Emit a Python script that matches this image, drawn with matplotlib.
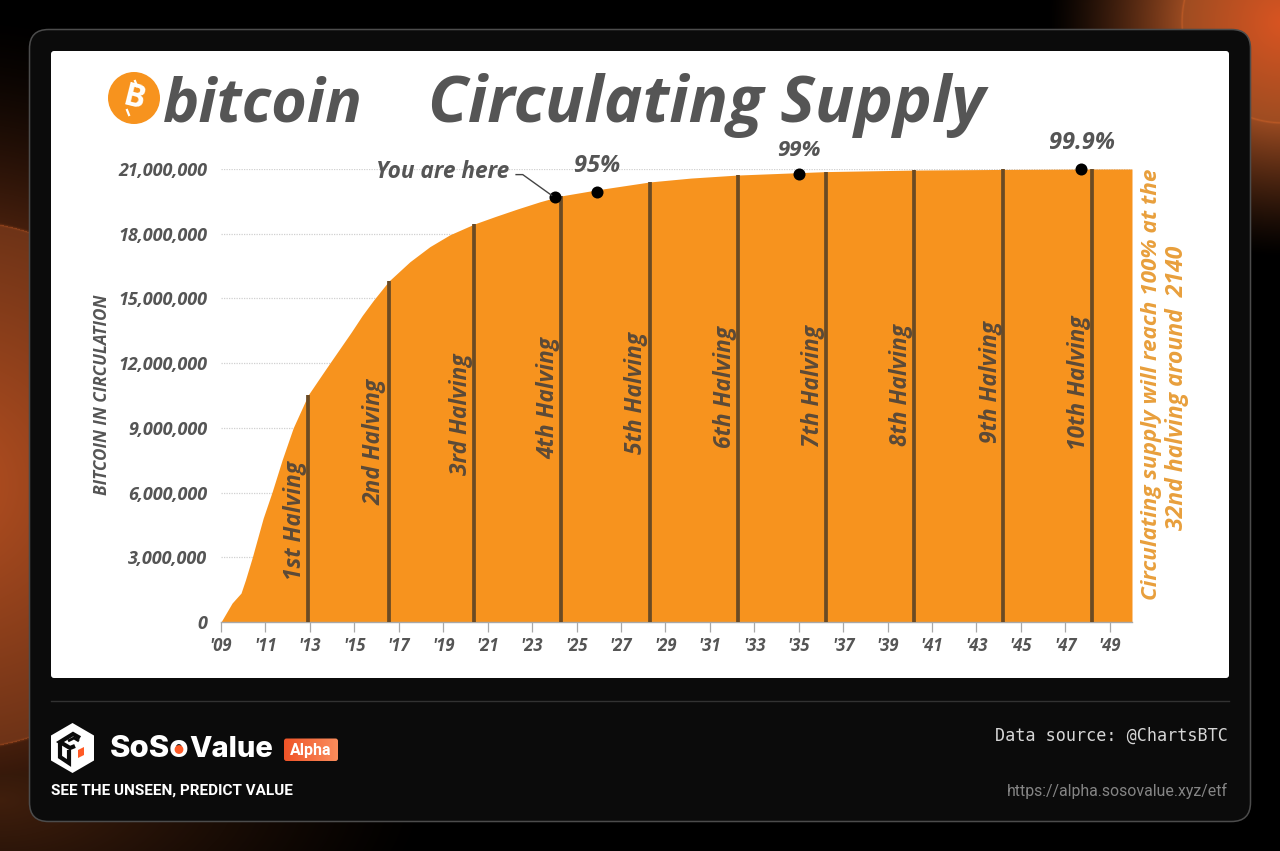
import numpy as np
import matplotlib
matplotlib.use("Agg")
import matplotlib.pyplot as plt
from matplotlib.patches import FancyBboxPatch, Circle, Polygon

# ---------- data ----------
years = [2009.0, 2009.5, 2009.9, 2010.1, 2010.4, 2010.9, 2011.3, 2011.75, 2012.25, 2012.92,
         2013.4, 2013.85, 2014.3, 2014.85, 2015.35, 2015.85, 2016.55, 2017.5, 2018.4, 2019.3, 2020.4,
         2021.35, 2022.35, 2023.35, 2024.3, 2025.9, 2027.0, 2028.3, 2030.15, 2032.25, 2036.25,
         2040.2, 2044.2, 2048.2, 2050.0]
supply = [0.0, 0.88, 1.34, 1.95, 2.97, 4.82, 6.03, 7.51, 9.0, 10.52,
          11.25, 11.93, 12.6, 13.42, 14.2, 14.9, 15.8, 16.7, 17.4, 17.95, 18.45,
          18.8, 19.15, 19.48, 19.75, 20.03, 20.2, 20.4, 20.58, 20.72, 20.88,
          20.95, 20.98, 21.0, 21.0]
halving_years = [2012.92, 2016.55, 2020.4, 2024.3, 2028.3, 2032.25, 2036.25, 2040.2, 2044.2, 2048.2]
halving_tops = [10.52, 15.8, 18.45, 19.75, 20.4, 20.72, 20.88, 20.95, 20.98, 21.0]
halving_labels = ["1st Halving", "2nd Halving", "3rd Halving", "4th Halving", "5th Halving",
                  "6th Halving", "7th Halving", "8th Halving", "9th Halving", "10th Halving"]
milestone_years = [2024.03, 2025.9, 2035.0, 2047.7]
milestone_supply = [19.7, 19.95, 20.79, 21.0]
milestone_labels = ["", "95%", "99%", "99.9%"]
y_ticks = [0, 3, 6, 9, 12, 15, 18, 21]
y_tick_labels = ["0", "3,000,000", "6,000,000", "9,000,000", "12,000,000", "15,000,000",
                 "18,000,000", "21,000,000"]
x_ticks = list(range(2009, 2051, 2))
x_tick_labels = ["'%02d" % (y % 100) for y in x_ticks]

W, H = 1280, 851
GRAY = "#555555"
ORANGE = "#F7931E"
TF = ["Open Sans", "DejaVu Sans"]

fig = plt.figure(figsize=(W / 100, H / 100), dpi=100, facecolor="black")

# ---------- background glows ----------
bg = fig.add_axes([0, 0, 1, 1], zorder=0)
bg.set_xlim(0, W); bg.set_ylim(H, 0); bg.axis("off")
yy, xx = np.mgrid[0:H, 0:W] + 0.5
tr = np.hypot(xx - 1283, yy - 22)
img = (np.clip(1 - (tr - 101) / 135, 0, 1) ** 1.3)[..., None] * np.array([0.60, 0.29, 0.13])
ti = tr < 101
mix = (tr[ti] / 101)[..., None]
img[ti] = (1 - mix) * np.array([0.85, 0.33, 0.13]) + mix * np.array([0.62, 0.30, 0.13])
lr = np.hypot(xx + 50, yy - 485)
il = np.clip(1 - (lr - 265) / 210, 0, 1)[..., None] ** 1.5 * np.array([0.27, 0.12, 0.05])
li = lr < 265
mix = np.clip((lr[li] - 50) / 215, 0, 1)[..., None]
il[li] = (1 - mix) * np.array([0.66, 0.29, 0.12]) + mix * np.array([0.43, 0.20, 0.09])
img = np.maximum(img, il)
bot = np.clip(1 - np.hypot(xx / 430, (yy - 800) / 200), 0, 1) ** 1.2
img = np.maximum(img, bot[..., None] * np.array([0.25, 0.12, 0.05]))
arc = np.exp(-((lr - 265) / 1.2) ** 2)[..., None] * 0.12
arc2 = np.exp(-((tr - 101) / 1.0) ** 2)[..., None] * 0.10
img = np.clip(img + (arc + arc2) * np.array([1, 0.45, 0.15]), 0, 1)
bg.imshow(img, extent=(0, W, H, 0), aspect="auto", interpolation="bilinear", zorder=0)
bg.set_xlim(0, W); bg.set_ylim(H, 0)

bg.add_patch(FancyBboxPatch((29.5, 29.5), 1221, 792, boxstyle="round,pad=0,rounding_size=19",
                            fc="#0b0b0b", ec="#4c4c4c", lw=1.1, zorder=1))
bg.add_patch(FancyBboxPatch((51, 51), 1178, 627, boxstyle="round,pad=0,rounding_size=3",
                            fc="white", ec="none", zorder=2))
bg.plot([51, 1229], [700.5, 700.5], color="#323232", lw=1.0, zorder=2)

# ---------- chart ----------
L, R, T, B = 221, 1132, 169, 622
ax = fig.add_axes([L / W, 1 - B / H, (R - L) / W, (B - T) / H], zorder=1)
ax.patch.set_alpha(0)
ax.set_xlim(2009, 2050); ax.set_ylim(0, 21)
for s in ["top", "left", "right"]:
    ax.spines[s].set_visible(False)
ax.spines["bottom"].set_color("#a8a8a8"); ax.spines["bottom"].set_linewidth(1.0)
ax.set_yticks(y_ticks); ax.set_yticklabels(y_tick_labels)
ax.set_xticks(x_ticks); ax.set_xticklabels(x_tick_labels)
ax.tick_params(axis="y", length=0, pad=9.8, labelcolor=GRAY, labelsize=13)
ax.tick_params(axis="x", length=7, width=0.9, color="#a8a8a8", pad=4, labelcolor=GRAY, labelsize=12)
for t in ax.get_xticklabels() + ax.get_yticklabels():
    t.set_family(TF); t.set_weight("bold"); t.set_style("italic")
ax.yaxis.grid(True, color="#d0d0d0", lw=0.9, ls=(0, (1, 1)), zorder=0)
ax.set_axisbelow(True)
ax.fill_between(years, 0, supply, color=ORANGE, lw=0, zorder=2, clip_on=False)
ax.vlines(halving_years, 0, halving_tops, color="#6a4a24", lw=2.7, zorder=3, clip_on=False)
ax.scatter(milestone_years, milestone_supply, s=75, color="black", zorder=4, clip_on=False, lw=0)

ax.annotate("You are here", xy=(milestone_years[0], milestone_supply[0]), xycoords="data",
            xytext=(509, 172), textcoords=bg.transData, ha="right", va="center",
            color=GRAY, fontsize=16.3, fontweight="bold", fontstyle="italic", family=TF,
            annotation_clip=False)
ax.plot([milestone_years[0] - 0.15, milestone_years[0] - 1.45, milestone_years[0] - 1.75],
        [milestone_supply[0] + 0.08, milestone_supply[0] + 1.04, milestone_supply[0] + 1.04],
        color="#444444", lw=1.0, zorder=4, clip_on=False)

# ---------- overlay text ----------
ov = fig.add_axes([0, 0, 1, 1], zorder=2)
ov.set_xlim(0, W); ov.set_ylim(H, 0); ov.axis("off"); ov.patch.set_alpha(0)

def txt(x, y, s, size, color=GRAY, ha="center", va="center", rot=0, w="bold", st="italic", fam=None, **kw):
    return ov.text(x, y, s, fontsize=size, color=color, ha=ha, va=va, rotation=rot,
                   fontweight=w, fontstyle=st, family=fam or TF, **kw)

# logo + title
ov.add_patch(Circle((134, 98), 26, fc=ORANGE, ec="none"))
ov.text(134, 98, "B", fontsize=23, color="white", fontweight="bold", ha="center", va="center",
        rotation=-14, family=TF)
ov.plot([135, 137], [81, 86], color="white", lw=1.6)
ov.plot([127, 129], [110, 115], color="white", lw=1.6)
txt(163, 122, "bitcoin", 44, ha="left", va="baseline")
txt(428, 122, "Circulating Supply", 47, ha="left", va="baseline")

txt(102, 395, "BITCOIN IN CIRCULATION", 12.3, rot=90)

for label, x, y in zip(halving_labels,
                       [295, 375, 461, 548, 636, 725, 813, 901, 991, 1079],
                       [521, 442, 414, 398, 393, 387, 386, 385, 382, 383]):
    txt(x, y, label, 16.4, color="#5b4a38", rot=90)

for label, x, y, size in zip(milestone_labels[1:], [597, 799, 1082], [166, 151, 143], [17, 16, 17]):
    txt(x, y, label, size)

txt(1151, 384, "Circulating supply will reach 100% at the", 16.2, color="#E89F3C", rot=90)
txt(1177, 388, "32nd halving around  2140", 16.6, color="#E89F3C", rot=90)

# ---------- footer ----------
cx, cy = 72.5, 748
hex_pts = [(cx, cy - 25), (cx + 21.5, cy - 12.5), (cx + 21.5, cy + 12.5), (cx, cy + 25),
           (cx - 21.5, cy + 12.5), (cx - 21.5, cy - 12.5)]
ov.add_patch(Polygon(hex_pts, closed=True, fc="white", ec="none"))
ink = dict(color="#0b0b0b", lw=3.0, solid_capstyle="butt", solid_joinstyle="miter")
ov.plot([80, 73, 60, 70, 75], [738, 734, 742, 748, 746], **ink)
ov.plot([60, 60, 69, 69], [742, 757, 763, 750], **ink)
ov.plot([68, 74, 79], [741, 738, 741], color="#0b0b0b", lw=2.0, solid_capstyle="butt")
ov.add_patch(Polygon([(78, 750), (84, 747), (84, 755), (78, 758)], closed=True, fc="#FF5A26", ec="none"))

txt(110, 757, "SoSo", 22.4, color="white", ha="left", va="baseline", st="normal", w="heavy",
    fam=["Inter", "DejaVu Sans"])
txt(189, 757, "Value", 21, color="white", ha="left", va="baseline", st="normal", w="heavy",
    fam=["Inter", "DejaVu Sans"])
ov.add_patch(Circle((179, 749.5), 4.4, fc="#FF5A26", ec="none", zorder=5))

badge = FancyBboxPatch((284, 738.5), 54, 22.5, boxstyle="round,pad=0,rounding_size=2.5", fc="none", ec="none")
ov.add_patch(badge)
grad = np.linspace(0, 1, 64)[None, :, None] * np.array([0.04, 0.22, 0.2]) + np.array([0.94, 0.33, 0.16])
im = ov.imshow(grad, extent=(284, 338, 761, 738.5), aspect="auto", zorder=3)
im.set_clip_path(badge)
ov.set_xlim(0, W); ov.set_ylim(H, 0)
txt(311, 750, "Alpha", 11.5, color="white", st="normal", fam=["Roboto"], zorder=4)

txt(51, 790.5, "SEE THE UNSEEN, PREDICT VALUE", 11.0, color="white", ha="left", st="normal", fam=["Roboto"])
txt(1228, 735.5, "Data source: @ChartsBTC", 12.1, color="#d6d6d6", ha="right", st="normal", w="normal",
    fam=["DejaVu Sans Mono"])
txt(1228, 790.5, "https://alpha.sosovalue.xyz/etf", 11.4, color="#858585", ha="right", st="normal", w="normal",
    fam=["Roboto"])

fig.savefig("out.png", dpi=100, facecolor="black")
